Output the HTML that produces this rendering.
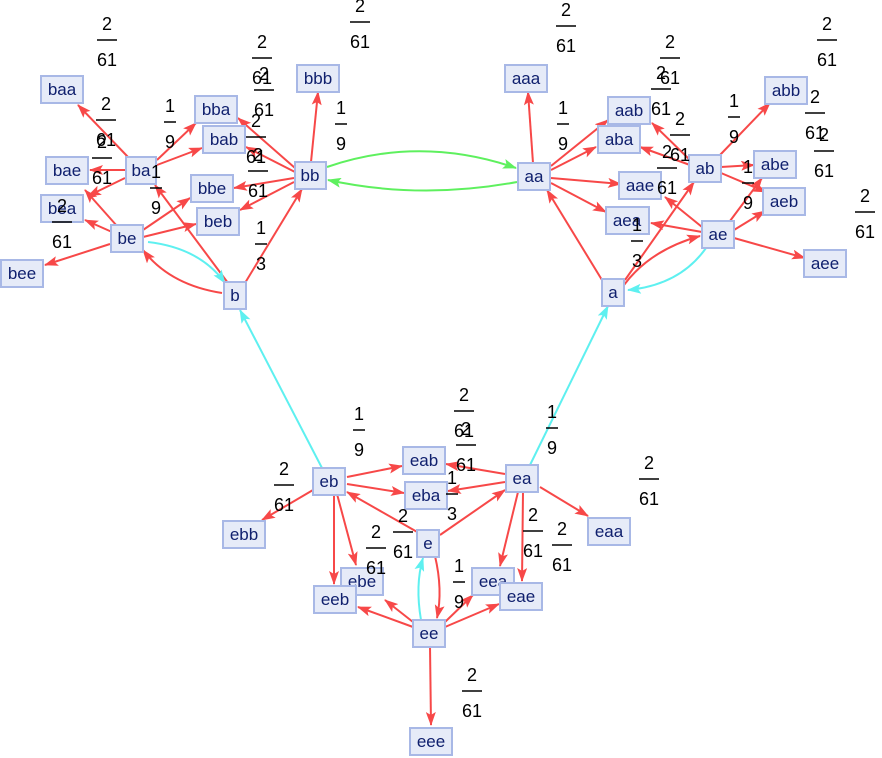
<!DOCTYPE html>
<html><head><meta charset="utf-8"><style>
html,body{margin:0;padding:0;background:#fff;}
svg{display:block;}
.n rect{fill:#e6ebf8;stroke:#a8b8e6;stroke-width:2;}
.n text{font-family:"Liberation Sans",sans-serif;font-size:17px;fill:#10206e;text-anchor:middle;}
.f text{font-family:"Liberation Sans",sans-serif;font-size:18px;fill:#000;text-anchor:middle;}
.r{stroke:#f74848;stroke-width:2;fill:none;marker-end:url(#ar);}
.c{stroke:#5ef0f0;stroke-width:2;fill:none;marker-end:url(#ac);}
.g{stroke:#5ef05e;stroke-width:2;fill:none;marker-end:url(#ag);}
</style></head><body>
<svg width="882" height="758" viewBox="0 0 882 758" xmlns="http://www.w3.org/2000/svg">
<defs>
<marker id="ar" markerWidth="14" markerHeight="10" refX="13" refY="5" orient="auto" markerUnits="userSpaceOnUse"><path d="M0,0 L14,5 L0,10 L3,5 z" fill="#f74848"/></marker>
<marker id="ac" markerWidth="14" markerHeight="10" refX="13" refY="5" orient="auto" markerUnits="userSpaceOnUse"><path d="M0,0 L14,5 L0,10 L3,5 z" fill="#5ef0f0"/></marker>
<marker id="ag" markerWidth="14" markerHeight="10" refX="13" refY="5" orient="auto" markerUnits="userSpaceOnUse"><path d="M0,0 L14,5 L0,10 L3,5 z" fill="#5ef05e"/></marker>
</defs>
<g>
<path class="r" d="M311,162 L318,92"/>
<path class="r" d="M295,168 L238,118"/>
<path class="r" d="M295,172 L246,147"/>
<path class="r" d="M294,178 L234,188"/>
<path class="r" d="M294,182 L240,210"/>
<path class="r" d="M245,283 L302,189"/>
<path class="r" d="M228,283 L155,185"/>
<path class="r" d="M222,293 Q170,285 143,250"/>
<path class="c" d="M148,242 Q200,248 225,283"/>
<path class="r" d="M112,232 L85,220"/>
<path class="r" d="M110,244 L45,265"/>
<path class="r" d="M117,226 L85,190"/>
<path class="r" d="M143,230 L190,198"/>
<path class="r" d="M143,237 L196,224"/>
<path class="r" d="M128,157 L78,105"/>
<path class="r" d="M125,170 L90,170"/>
<path class="r" d="M125,178 L88,196"/>
<path class="r" d="M157,160 L196,123"/>
<path class="r" d="M157,165 L202,148"/>
<path class="g" d="M327,167 Q420,135 516,168"/>
<path class="g" d="M517,182 Q420,200 328,180"/>
<path class="r" d="M533,163 L528,92"/>
<path class="r" d="M551,166 L608,120"/>
<path class="r" d="M551,170 L596,147"/>
<path class="r" d="M551,178 L621,184"/>
<path class="r" d="M551,183 L606,212"/>
<path class="r" d="M602,280 L547,190"/>
<path class="r" d="M625,280 L694,182"/>
<path class="r" d="M624,285 Q650,250 700,236"/>
<path class="c" d="M706,248 Q680,285 628,290"/>
<path class="r" d="M690,160 L652,123"/>
<path class="r" d="M690,165 L640,147"/>
<path class="r" d="M720,155 L770,103"/>
<path class="r" d="M721,167 L754,165"/>
<path class="r" d="M721,173 L766,192"/>
<path class="r" d="M702,227 L665,197"/>
<path class="r" d="M702,232 L651,223"/>
<path class="r" d="M730,221 L762,178"/>
<path class="r" d="M734,230 L765,211"/>
<path class="r" d="M734,238 L805,258"/>
<path class="c" d="M322,468 L240,310"/>
<path class="c" d="M530,465 L608,306"/>
<path class="r" d="M347,477 L402,466"/>
<path class="r" d="M347,484 L404,493"/>
<path class="r" d="M313,490 L262,520"/>
<path class="r" d="M334,494 L334,584"/>
<path class="r" d="M337,494 L356,565"/>
<path class="r" d="M419,533 L347,492"/>
<path class="r" d="M440,535 L505,490"/>
<path class="r" d="M505,474 L446,464"/>
<path class="r" d="M505,482 L448,491"/>
<path class="r" d="M540,487 L588,516"/>
<path class="r" d="M518,492 L500,566"/>
<path class="r" d="M523,492 L522,581"/>
<path class="r" d="M435,556 Q443,590 437,618"/>
<path class="c" d="M421,620 Q415,585 423,558"/>
<path class="r" d="M413,627 L358,607"/>
<path class="r" d="M413,622 L385,600"/>
<path class="r" d="M445,622 L473,595"/>
<path class="r" d="M445,627 L499,604"/>
<path class="r" d="M430,646 L431,725"/>
</g>
<g class="n">
<rect x="41" y="76" width="42" height="27"/><text x="62" y="95">baa</text>
<rect x="195" y="96" width="42" height="27"/><text x="216" y="115">bba</text>
<rect x="203" y="126" width="42" height="27"/><text x="224" y="145">bab</text>
<rect x="126" y="157" width="30" height="27"/><text x="141" y="176">ba</text>
<rect x="46" y="157" width="42" height="27"/><text x="67" y="176">bae</text>
<rect x="191" y="175" width="42" height="27"/><text x="212" y="194">bbe</text>
<rect x="295" y="162" width="31" height="27"/><text x="310" y="181">bb</text>
<rect x="41" y="195" width="42" height="27"/><text x="62" y="214">bea</text>
<rect x="197" y="208" width="42" height="27"/><text x="218" y="227">beb</text>
<rect x="111" y="225" width="32" height="27"/><text x="127" y="244">be</text>
<rect x="1" y="260" width="42" height="27"/><text x="22" y="279">bee</text>
<rect x="224" y="282" width="22" height="27"/><text x="235" y="301">b</text>
<rect x="297" y="65" width="42" height="27"/><text x="318" y="84">bbb</text>
<rect x="505" y="65" width="42" height="27"/><text x="526" y="84">aaa</text>
<rect x="608" y="97" width="42" height="27"/><text x="629" y="116">aab</text>
<rect x="598" y="126" width="42" height="27"/><text x="619" y="145">aba</text>
<rect x="518" y="163" width="32" height="27"/><text x="534" y="182">aa</text>
<rect x="619" y="172" width="42" height="27"/><text x="640" y="191">aae</text>
<rect x="606" y="207" width="43" height="27"/><text x="627" y="226">aea</text>
<rect x="689" y="155" width="32" height="27"/><text x="705" y="174">ab</text>
<rect x="754" y="151" width="42" height="27"/><text x="775" y="170">abe</text>
<rect x="765" y="77" width="42" height="27"/><text x="786" y="96">abb</text>
<rect x="763" y="188" width="42" height="27"/><text x="784" y="207">aeb</text>
<rect x="702" y="221" width="32" height="27"/><text x="718" y="240">ae</text>
<rect x="804" y="250" width="42" height="27"/><text x="825" y="269">aee</text>
<rect x="602" y="279" width="22" height="27"/><text x="613" y="298">a</text>
<rect x="313" y="468" width="32" height="27"/><text x="329" y="487">eb</text>
<rect x="403" y="447" width="42" height="27"/><text x="424" y="466">eab</text>
<rect x="405" y="482" width="42" height="27"/><text x="426" y="501">eba</text>
<rect x="506" y="465" width="32" height="27"/><text x="522" y="484">ea</text>
<rect x="223" y="521" width="42" height="27"/><text x="244" y="540">ebb</text>
<rect x="417" y="530" width="22" height="27"/><text x="428" y="549">e</text>
<rect x="588" y="518" width="42" height="27"/><text x="609" y="537">eaa</text>
<rect x="341" y="568" width="42" height="27"/><text x="362" y="587">ebe</text>
<rect x="314" y="586" width="42" height="27"/><text x="335" y="605">eeb</text>
<rect x="472" y="568" width="42" height="27"/><text x="493" y="587">eea</text>
<rect x="500" y="583" width="42" height="27"/><text x="521" y="602">eae</text>
<rect x="413" y="620" width="32" height="27"/><text x="429" y="639">ee</text>
<rect x="410" y="728" width="42" height="27"/><text x="431" y="747">eee</text>
</g>
<g class="f">
<g transform="translate(107,40)"><text y="-10">2</text><path d="M-10,0 H10" stroke="#000" stroke-width="1.5"/><text y="26">61</text></g>
<g transform="translate(262,58)"><text y="-10">2</text><path d="M-10,0 H10" stroke="#000" stroke-width="1.5"/><text y="26">61</text></g>
<g transform="translate(264,90)"><text y="-10">2</text><path d="M-10,0 H10" stroke="#000" stroke-width="1.5"/><text y="26">61</text></g>
<g transform="translate(360,22)"><text y="-10">2</text><path d="M-10,0 H10" stroke="#000" stroke-width="1.5"/><text y="26">61</text></g>
<g transform="translate(106,120)"><text y="-10">2</text><path d="M-10,0 H10" stroke="#000" stroke-width="1.5"/><text y="26">61</text></g>
<g transform="translate(102,158)"><text y="-10">2</text><path d="M-10,0 H10" stroke="#000" stroke-width="1.5"/><text y="26">61</text></g>
<g transform="translate(170,122)"><text y="-10">1</text><path d="M-6,0 H6" stroke="#000" stroke-width="1.5"/><text y="26">9</text></g>
<g transform="translate(156,188)"><text y="-10">1</text><path d="M-6,0 H6" stroke="#000" stroke-width="1.5"/><text y="26">9</text></g>
<g transform="translate(256,137)"><text y="-10">2</text><path d="M-10,0 H10" stroke="#000" stroke-width="1.5"/><text y="26">61</text></g>
<g transform="translate(258,171)"><text y="-10">2</text><path d="M-10,0 H10" stroke="#000" stroke-width="1.5"/><text y="26">61</text></g>
<g transform="translate(62,222)"><text y="-10">2</text><path d="M-10,0 H10" stroke="#000" stroke-width="1.5"/><text y="26">61</text></g>
<g transform="translate(261,244)"><text y="-10">1</text><path d="M-6,0 H6" stroke="#000" stroke-width="1.5"/><text y="26">3</text></g>
<g transform="translate(341,124)"><text y="-10">1</text><path d="M-6,0 H6" stroke="#000" stroke-width="1.5"/><text y="26">9</text></g>
<g transform="translate(566,26)"><text y="-10">2</text><path d="M-10,0 H10" stroke="#000" stroke-width="1.5"/><text y="26">61</text></g>
<g transform="translate(563,124)"><text y="-10">1</text><path d="M-6,0 H6" stroke="#000" stroke-width="1.5"/><text y="26">9</text></g>
<g transform="translate(670,58)"><text y="-10">2</text><path d="M-10,0 H10" stroke="#000" stroke-width="1.5"/><text y="26">61</text></g>
<g transform="translate(661,89)"><text y="-10">2</text><path d="M-10,0 H10" stroke="#000" stroke-width="1.5"/><text y="26">61</text></g>
<g transform="translate(680,135)"><text y="-10">2</text><path d="M-10,0 H10" stroke="#000" stroke-width="1.5"/><text y="26">61</text></g>
<g transform="translate(667,168)"><text y="-10">2</text><path d="M-10,0 H10" stroke="#000" stroke-width="1.5"/><text y="26">61</text></g>
<g transform="translate(734,117)"><text y="-10">1</text><path d="M-6,0 H6" stroke="#000" stroke-width="1.5"/><text y="26">9</text></g>
<g transform="translate(827,40)"><text y="-10">2</text><path d="M-10,0 H10" stroke="#000" stroke-width="1.5"/><text y="26">61</text></g>
<g transform="translate(815,113)"><text y="-10">2</text><path d="M-10,0 H10" stroke="#000" stroke-width="1.5"/><text y="26">61</text></g>
<g transform="translate(824,151)"><text y="-10">2</text><path d="M-10,0 H10" stroke="#000" stroke-width="1.5"/><text y="26">61</text></g>
<g transform="translate(865,212)"><text y="-10">2</text><path d="M-10,0 H10" stroke="#000" stroke-width="1.5"/><text y="26">61</text></g>
<g transform="translate(748,183)"><text y="-10">1</text><path d="M-6,0 H6" stroke="#000" stroke-width="1.5"/><text y="26">9</text></g>
<g transform="translate(637,241)"><text y="-10">1</text><path d="M-6,0 H6" stroke="#000" stroke-width="1.5"/><text y="26">3</text></g>
<g transform="translate(464,411)"><text y="-10">2</text><path d="M-10,0 H10" stroke="#000" stroke-width="1.5"/><text y="26">61</text></g>
<g transform="translate(466,445)"><text y="-10">2</text><path d="M-10,0 H10" stroke="#000" stroke-width="1.5"/><text y="26">61</text></g>
<g transform="translate(359,430)"><text y="-10">1</text><path d="M-6,0 H6" stroke="#000" stroke-width="1.5"/><text y="26">9</text></g>
<g transform="translate(552,428)"><text y="-10">1</text><path d="M-6,0 H6" stroke="#000" stroke-width="1.5"/><text y="26">9</text></g>
<g transform="translate(284,485)"><text y="-10">2</text><path d="M-10,0 H10" stroke="#000" stroke-width="1.5"/><text y="26">61</text></g>
<g transform="translate(452,494)"><text y="-10">1</text><path d="M-6,0 H6" stroke="#000" stroke-width="1.5"/><text y="26">3</text></g>
<g transform="translate(403,532)"><text y="-10">2</text><path d="M-10,0 H10" stroke="#000" stroke-width="1.5"/><text y="26">61</text></g>
<g transform="translate(376,548)"><text y="-10">2</text><path d="M-10,0 H10" stroke="#000" stroke-width="1.5"/><text y="26">61</text></g>
<g transform="translate(533,531)"><text y="-10">2</text><path d="M-10,0 H10" stroke="#000" stroke-width="1.5"/><text y="26">61</text></g>
<g transform="translate(562,545)"><text y="-10">2</text><path d="M-10,0 H10" stroke="#000" stroke-width="1.5"/><text y="26">61</text></g>
<g transform="translate(459,582)"><text y="-10">1</text><path d="M-6,0 H6" stroke="#000" stroke-width="1.5"/><text y="26">9</text></g>
<g transform="translate(649,479)"><text y="-10">2</text><path d="M-10,0 H10" stroke="#000" stroke-width="1.5"/><text y="26">61</text></g>
<g transform="translate(472,691)"><text y="-10">2</text><path d="M-10,0 H10" stroke="#000" stroke-width="1.5"/><text y="26">61</text></g>
</g>
</svg>
</body></html>
